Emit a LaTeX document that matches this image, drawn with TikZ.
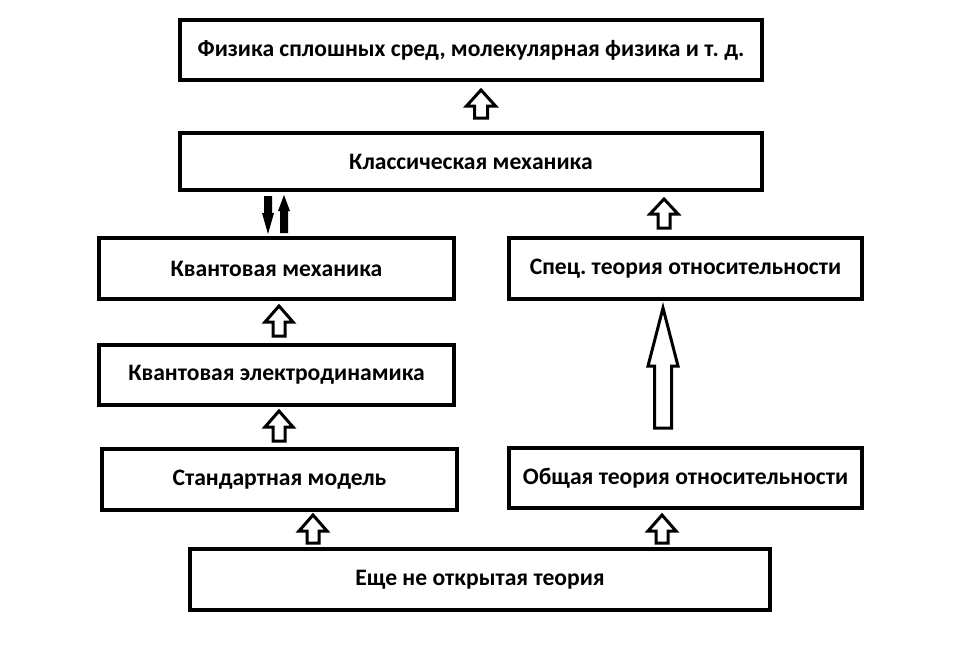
\documentclass[tikz,border=0pt]{standalone}
\usepackage{fontspec}
\setmainfont{Carlito}
\frenchspacing
\begin{document}
\begin{tikzpicture}[x=1pt,y=-1pt,
  box/.style={draw=black,line width=4pt,fill=white,inner sep=0pt,font=\fontsize{23.6}{28}\selectfont\bfseries\frenchspacing},
  hollowarr/.style={draw=black,line width=3pt,fill=white,line join=miter},
  solidarr/.style={draw=black,line width=1pt,fill=black}]
\useasboundingbox (0,0) rectangle (973,651);
\newcommand\boxat[6]{\node[box,minimum width={#4-#2},minimum height={#5-#3}] (#1) at ({(#2+#4)/2},{(#3+#5)/2}) {#6};}
\boxat{top}{180}{20}{762}{80}{Физика сплошных сред, молекулярная физика и т. д.}
\boxat{cm}{180}{133}{762}{190}{Классическая механика}
\boxat{qm}{99}{238}{454}{299}{Квантовая механика}
\boxat{sr}{509}{238}{862}{299}{Спец. теория относительности}
\boxat{qed}{99}{345}{454}{405}{Квантовая электродинамика}
\boxat{sm}{102}{449}{457}{510}{Стандартная модель}
\boxat{gr}{509}{448}{862}{508}{Общая теория относительности}
\boxat{un}{190}{549}{770}{610}{Еще не открытая теория}
% hollow up arrow: center, tip, head base, bottom, head half width, shaft half width
\newcommand\uparr[6]{\draw[hollowarr] (#1,#2) -- ({#1+#5},#3) -- ({#1+#6},#3) -- ({#1+#6},#4) -- ({#1-#6},#4) -- ({#1-#6},#3) -- ({#1-#5},#3) -- cycle;}
\uparr{481}{90}{106}{118}{14.5}{6.5}
\uparr{664}{199}{214}{228}{14}{6}
\uparr{279}{306}{322}{336}{14}{6}
\uparr{279}{411}{427}{441}{14}{6}
\uparr{313}{515}{531}{543}{14}{6}
\uparr{662}{515}{531}{543}{14}{6}
\uparr{663}{308}{366}{428}{15}{8.5}
% solid double arrow
\fill[black] (262,213) -- (264,213) -- (264,196) -- (272,196) -- (272,213) -- (274,213) -- (268,234) -- cycle;
\fill[black] (284,195) -- (290,211) -- (288,211) -- (288,233) -- (280,233) -- (280,211) -- (278,211) -- cycle;
\end{tikzpicture}
\end{document}
